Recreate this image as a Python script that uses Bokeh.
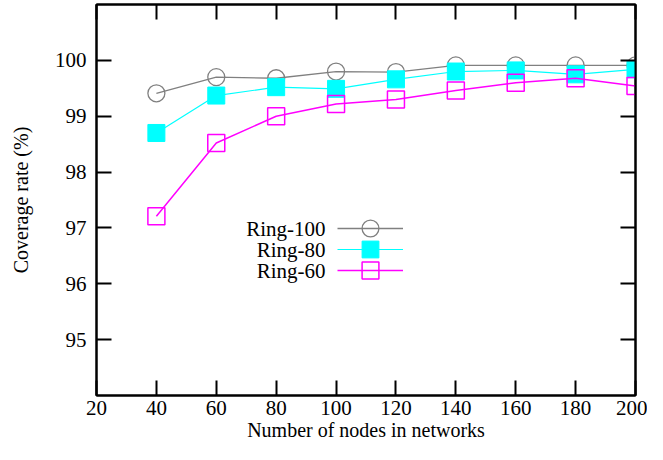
from bokeh.plotting import figure
from bokeh.models import LinearAxis, FixedTicker, Legend, LegendItem, Label, Range1d
from bokeh.embed import file_html
from bokeh.resources import INLINE

# ---- data ----
nodes = [40, 60, 80, 100, 120, 140, 160, 180, 200]
ring100 = [99.41, 99.70, 99.68, 99.80, 99.79, 99.91, 99.91, 99.91, 99.91]
ring80 = [98.70, 99.37, 99.52, 99.49, 99.66, 99.80, 99.82, 99.75, 99.84]
ring60 = [97.21, 98.52, 99.00, 99.22, 99.30, 99.46, 99.60, 99.68, 99.54]
series_names = ["Ring-100", "Ring-80", "Ring-60"]
x_ticks = [20, 40, 60, 80, 100, 120, 140, 160, 180, 200]
y_ticks = [95, 96, 97, 98, 99, 100]

FONT = "Liberation Serif"
FS = "21px"

p = figure(width=647, height=444, x_range=Range1d(20, 200), y_range=Range1d(94, 101),
           output_backend="svg", toolbar_location=None,
           min_border_left=96, min_border_right=12, min_border_top=4, min_border_bottom=49)
p.xgrid.visible = False
p.ygrid.visible = False
p.outline_line_color = "black"
p.outline_line_width = 2


def style_axis(ax, ticks, labels=True):
    ax.ticker = FixedTicker(ticks=ticks)
    ax.major_tick_in = 15
    ax.major_tick_out = 0
    ax.major_tick_line_width = 2
    ax.major_tick_line_color = "black"
    ax.minor_tick_line_color = None
    ax.axis_line_width = 2
    ax.axis_line_color = "black"
    ax.major_label_text_font = FONT
    ax.axis_label_text_font = FONT
    ax.axis_label_text_font_style = "normal"
    ax.axis_label_text_color = "black"
    if labels:
        ax.major_label_text_color = "black"
        ax.major_label_text_font_size = FS
        ax.axis_label_text_font_size = "20px"
    else:
        ax.major_label_text_color = None
        ax.major_label_text_font_size = "1px"
        ax.major_label_standoff = 0


xa = p.xaxis[0]
ya = p.yaxis[0]
style_axis(xa, x_ticks)
style_axis(ya, y_ticks)
xa.axis_label = "Number of nodes in networks"
ya.axis_label = "Coverage rate (%)"
xa.major_label_standoff = 5
xa.axis_label_standoff = 1
ya.major_label_standoff = 10
ya.axis_label_standoff = 20

ra = LinearAxis()
style_axis(ra, y_ticks, labels=False)
p.add_layout(ra, "right")
ta = LinearAxis()
style_axis(ta, x_ticks, labels=False)
p.add_layout(ta, "above")

l1 = p.line(nodes, ring100, line_color="#808080", line_width=1.3)
s1 = p.scatter(nodes, ring100, marker="circle", size=17, fill_color=None,
               line_color="#808080", line_width=1.3)
l2 = p.line(nodes, ring80, line_color="#00FFFF", line_width=1.2)
s2 = p.scatter(nodes, ring80, marker="square", size=17, fill_color="#00FFFF",
               line_color="#00FFFF", line_width=1)
l3 = p.line(nodes, ring60, line_color="#FF00FF", line_width=1.5)
s3 = p.scatter(nodes, ring60, marker="square", size=17, fill_color=None,
               line_color="#FF00FF", line_width=1.5)

renderer_pairs = [(l1, s1), (l2, s2), (l3, s3)]
for i, (name, (lr, sr)) in enumerate(zip(series_names, renderer_pairs)):
    leg = Legend(items=[LegendItem(label=" ", renderers=[lr, sr])],
                 location=(241, 146 - 21 * i), glyph_width=66, glyph_height=42,
                 label_height=42, label_width=0, label_standoff=0,
                 label_text_font_size="1px", label_text_color=None,
                 spacing=0, padding=0, margin=0,
                 background_fill_alpha=0, border_line_color=None)
    p.add_layout(leg, "center")
    p.add_layout(Label(x=229, y=167 - 21 * i, x_units="screen", y_units="screen",
                       text=name, text_align="right", text_baseline="middle",
                       text_font=FONT, text_font_size=FS, text_color="black"))

open("out.html", "w").write(file_html(p, INLINE))
